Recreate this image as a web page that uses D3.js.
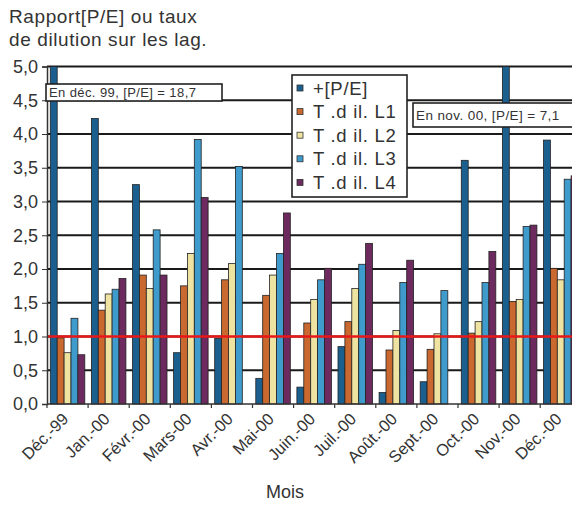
<!DOCTYPE html>
<html>
<head>
<meta charset="utf-8">
<script src="https://cdn.jsdelivr.net/npm/d3@7"></script>
<style>
  html, body { margin: 0; padding: 0; background: #fff; }
  svg { display: block; font-family: Arial, "Liberation Sans", sans-serif; }
</style>
</head>
<body>
<svg id="chart" width="572" height="511"></svg>
<script>
// Months of the study period
const months = ["Déc.-99", "Jan.-00", "Févr.-00", "Mars-00", "Avr.-00", "Mai-00",
  "Juin.-00", "Juil.-00", "Août.-00", "Sept.-00", "Oct.-00", "Nov.-00", "Déc.-00"];

// Series names (legend)
const seriesNames = ["+[P/E]", "T .d il. L1", "T .d il. L2", "T .d il. L3", "T .d il. L4"];

// Ratio [P/E] and dilution rates per lag, month by month
const pe = [18.7, 4.23, 3.25, 0.76, 0.97, 0.38, 0.25, 0.85, 0.17, 0.33, 3.61, 7.1, 3.91];
const lag1 = [0.98, 1.39, 1.91, 1.75, 1.84, 1.61, 1.20, 1.22, 0.80, 0.81, 1.05, 1.52, 2.01];
const lag2 = [0.76, 1.63, 1.71, 2.23, 2.08, 1.91, 1.55, 1.71, 1.09, 1.04, 1.22, 1.55, 1.84];
const lag3 = [1.27, 1.70, 2.58, 3.92, 3.52, 2.23, 1.84, 2.07, 1.80, 1.68, 1.80, 2.63, 3.33];
const lag4 = [0.73, 1.86, 1.91, 3.06, 0, 2.83, 2.01, 2.38, 2.13, 0, 2.26, 2.65, 3.38];

const yTicks = [0, 0.5, 1, 1.5, 2, 2.5, 3, 3.5, 4, 4.5, 5];
const refLevel = 1.0;

const colors = ["#1b5f8f", "#c9682f", "#efe3a2", "#3e9bcc", "#6c2a5f"];
const seriesValues = [pe, lag1, lag2, lag3, lag4];

const svg = d3.select("#chart");

const plotLeft = 47, plotTop = 66.5, plotBottom = 404;
const step = 41.1;
const plotRight = plotLeft + step * months.length;

const x = d3.scaleBand().domain(months).range([plotLeft, plotRight]).paddingInner(0.16).paddingOuter(0.08);
const xs = d3.scaleBand().domain(d3.range(seriesNames.length)).range([0, x.bandwidth()]);
const y = d3.scaleLinear().domain([0, 5]).range([plotBottom, plotTop]).clamp(true);

const fmt = v => d3.format(".1f")(v).replace(".", ",");

// Horizontal grid lines
svg.append("g").selectAll("line").data(yTicks.filter(d => d > 0)).join("line")
  .attr("x1", plotLeft).attr("x2", plotRight)
  .attr("y1", d => y(d)).attr("y2", d => y(d))
  .attr("stroke", "#1a1a1a").attr("stroke-width", 1.8);

// Bars
const groups = svg.append("g").selectAll("g").data(months).join("g")
  .attr("transform", d => `translate(${x(d)},0)`);
groups.selectAll("rect")
  .data((m, i) => seriesValues.map((s, k) => ({ k, v: s[i] })))
  .join("rect")
  .attr("x", d => xs(d.k))
  .attr("width", xs.bandwidth())
  .attr("y", d => y(d.v))
  .attr("height", d => y(0) - y(d.v))
  .attr("fill", d => colors[d.k])
  .attr("stroke", d => d.v > 0 ? "#222" : "none")
  .attr("stroke-width", 0.8);

// Reference line at 1,0
svg.append("line")
  .attr("x1", plotLeft).attr("x2", plotRight)
  .attr("y1", y(refLevel)).attr("y2", y(refLevel))
  .attr("stroke", "#e81818").attr("stroke-width", 2.4);

// Y axis
const yAxis = d3.axisLeft(y).tickValues(yTicks).tickFormat(fmt).tickSize(5).tickPadding(4);
const gy = svg.append("g").attr("transform", `translate(${plotLeft},0)`).call(yAxis);
gy.select(".domain").attr("stroke", "#333").attr("stroke-width", 1.5);
gy.selectAll(".tick line").attr("stroke", "#333");
gy.selectAll("text").attr("font-size", 18).attr("fill", "#333")
  .attr("font-family", "Arial, 'Liberation Sans', sans-serif");

// X axis with ticks on category boundaries
svg.append("line").attr("x1", plotLeft).attr("x2", plotRight)
  .attr("y1", plotBottom).attr("y2", plotBottom).attr("stroke", "#333").attr("stroke-width", 1.5);
svg.append("g").selectAll("line").data(d3.range(months.length + 1)).join("line")
  .attr("x1", i => plotLeft + i * step).attr("x2", i => plotLeft + i * step)
  .attr("y1", plotBottom).attr("y2", plotBottom + 4)
  .attr("stroke", "#333").attr("stroke-width", 1.2);

svg.append("g").selectAll("text").data(months).join("text")
  .attr("transform", d => `translate(${x(d) + x.bandwidth() / 2 + 2},${plotBottom + 16}) rotate(-45)`)
  .attr("text-anchor", "end")
  .attr("font-size", 16.5).attr("fill", "#333")
  .text(d => d);

// Axis titles
svg.append("text").attr("x", 9).attr("y", 23).attr("font-size", 19).attr("letter-spacing", 0.6)
  .attr("fill", "#333").text("Rapport[P/E] ou taux");
svg.append("text").attr("x", 9).attr("y", 46).attr("font-size", 19).attr("letter-spacing", 0.6)
  .attr("fill", "#333").text("de dilution sur les lag.");
svg.append("text").attr("x", 285).attr("y", 498).attr("text-anchor", "middle")
  .attr("font-size", 18).attr("fill", "#333").text("Mois");

// Callouts for the off-scale [P/E] values
function callout(bx, by, bw, bh, fs, label) {
  svg.append("rect").attr("x", bx).attr("y", by).attr("width", bw).attr("height", bh)
    .attr("fill", "#fff").attr("stroke", "#222").attr("stroke-width", 1.6);
  svg.append("text").attr("x", bx + 3).attr("y", by + bh / 2 + fs * 0.36)
    .attr("font-size", fs).attr("letter-spacing", 0.4).attr("fill", "#333").text(label);
}
callout(46, 84, 176, 17, 13, `En déc. 99, [P/E] = ${fmt(pe[0])}`);
callout(413, 103, 175, 24, 13.5, `En nov. 00, [P/E] = ${fmt(pe[11])}`);

// Legend
const lg = svg.append("g");
lg.append("rect").attr("x", 292).attr("y", 75).attr("width", 115).attr("height", 122)
  .attr("fill", "#fff").attr("stroke", "#222").attr("stroke-width", 1.6);
seriesNames.forEach((name, k) => {
  const cy = 88 + k * 23.6;
  lg.append("rect").attr("x", 297).attr("y", cy - 3).attr("width", 6).attr("height", 6)
    .attr("fill", colors[k]).attr("stroke", "#333").attr("stroke-width", 0.8);
  lg.append("text").attr("x", 313).attr("y", cy + 6.5).attr("font-size", 18.5)
    .attr("letter-spacing", 0.7).attr("fill", "#333").text(name);
});
</script>
</body>
</html>
